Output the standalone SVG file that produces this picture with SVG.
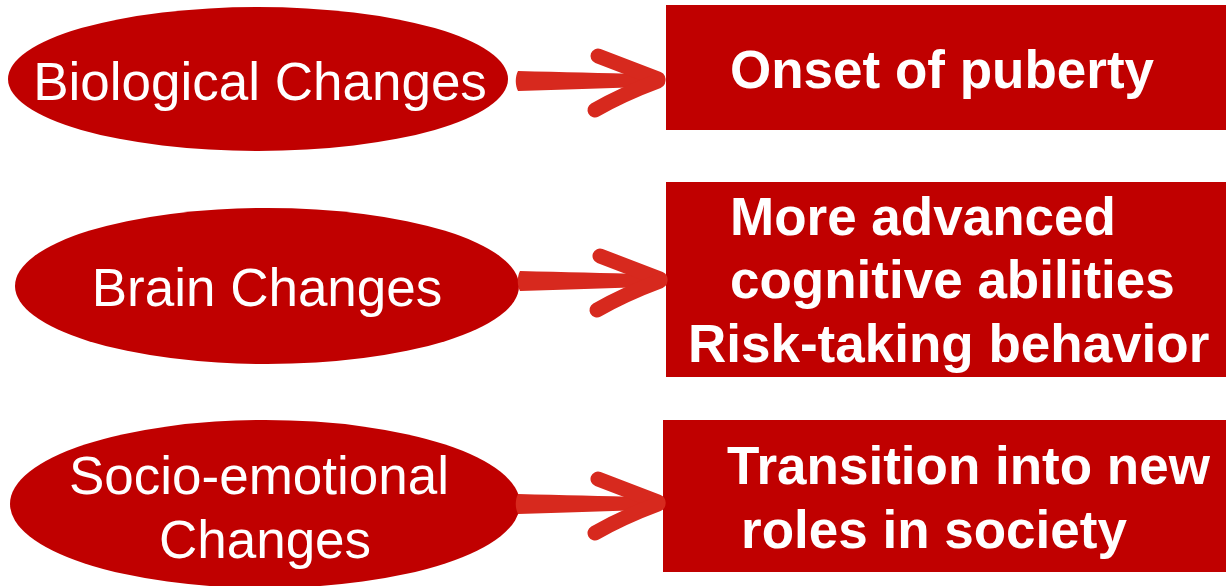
<svg xmlns="http://www.w3.org/2000/svg" xmlns:xlink="http://www.w3.org/1999/xlink" width="1226" height="586" viewBox="0 0 1226 586">
  <style>
    .shape { fill: #C00000; }
    .oval-label { font-family: "Liberation Sans", Arial, sans-serif; font-size: 53px; fill: #FFFFFF; text-anchor: middle; }
    .box-label { font-family: "Liberation Sans", Arial, sans-serif; font-size: 53px; font-weight: bold; fill: #FFFFFF; }
    .arrow-shaft { fill: #D7291E; }
    .arrow-barb { fill: none; stroke: #D7291E; stroke-width: 15; stroke-linecap: round; stroke-linejoin: round; }
  </style>
  <defs>
    <!-- hand-drawn style arrow, tip at the origin -->
    <g id="brush-arrow">
      <path class="arrow-shaft" d="M -145,-9 C -100,-8 -60,-7 -20,-6 L -20,7 C -60,8 -100,10 -145,11 C -148,5 -148,-3 -145,-9 Z"/>
      <path class="arrow-barb" d="M -65,-24 Q -36,-13 -5,-1"/>
      <path class="arrow-barb" d="M -68,30 Q -40,14 -5,1"/>
    </g>
  </defs>

  <rect width="1226" height="586" fill="#FFFFFF"/>

  <g id="biological">
    <ellipse class="shape" cx="258" cy="79" rx="250" ry="72"/>
    <text class="oval-label" x="260" y="100">Biological Changes</text>
  </g>

  <g id="brain">
    <ellipse class="shape" cx="267" cy="286" rx="252" ry="78"/>
    <text class="oval-label" x="267" y="306">Brain Changes</text>
  </g>

  <g id="socio-emotional">
    <ellipse class="shape" cx="265" cy="504" rx="255" ry="84"/>
    <text class="oval-label" x="259" y="494">Socio-emotional</text>
    <text class="oval-label" x="265" y="558">Changes</text>
  </g>

  <g id="puberty">
    <rect class="shape" x="666" y="5" width="560" height="125"/>
    <text class="box-label" x="730" y="88">Onset of puberty</text>
  </g>

  <g id="cognition">
    <rect class="shape" x="666" y="182" width="560" height="195"/>
    <text class="box-label" x="730" y="235">More advanced</text>
    <text class="box-label" x="730" y="298">cognitive abilities</text>
    <text class="box-label" x="688" y="362">Risk-taking behavior</text>
  </g>

  <g id="roles">
    <rect class="shape" x="663" y="420" width="563" height="152"/>
    <text class="box-label" x="727" y="484">Transition into new</text>
    <text class="box-label" x="741" y="548">roles in society</text>
  </g>

  <g id="connectors">
    <use xlink:href="#brush-arrow" transform="translate(663,80)"/>
    <use xlink:href="#brush-arrow" transform="translate(665,280)"/>
    <use xlink:href="#brush-arrow" transform="translate(663,503)"/>
  </g>
</svg>
